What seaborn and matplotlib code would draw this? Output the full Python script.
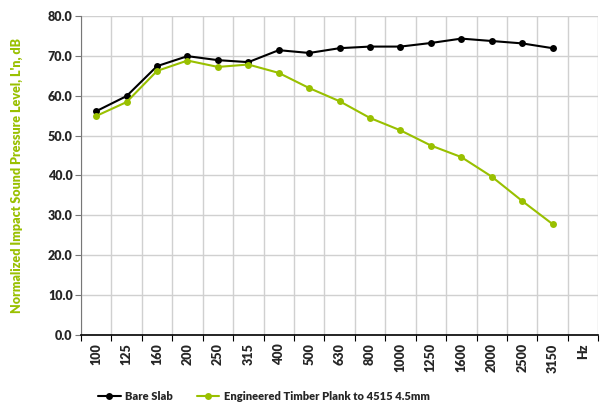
import numpy as np
import pandas as pd
import matplotlib
matplotlib.use("Agg")
import matplotlib.pyplot as plt
import seaborn as sns

freqs = ["100", "125", "160", "200", "250", "315", "400", "500", "630", "800",
         "1000", "1250", "1600", "2000", "2500", "3150"]
bare_slab = [56.1, 59.9, 67.4, 69.9, 68.9, 68.4, 71.4, 70.7, 71.9, 72.3,
             72.3, 73.2, 74.3, 73.7, 73.1, 71.9]
timber = [54.9, 58.4, 66.2, 68.8, 67.2, 67.8, 65.7, 61.9, 58.6, 54.4,
          51.3, 47.5, 44.6, 39.7, 33.6, 27.8]
series_names = ["Bare Slab", "Engineered Timber Plank to 4515 4.5mm"]

GREEN = "#99C000"

sns.set_style("white")
plt.rcParams["font.family"] = ["Lato", "DejaVu Sans"]

df = pd.DataFrame({
    "pos": list(range(len(freqs))) * 2,
    "value": bare_slab + timber,
    "series": [series_names[0]] * len(freqs) + [series_names[1]] * len(freqs),
})

fig = plt.figure(figsize=(6.0, 4.07), dpi=100)
ax = fig.add_axes([0.135, 0.177, 0.862, 0.784])

sns.lineplot(data=df, x="pos", y="value", hue="series",
             palette=["black", GREEN], marker="o", markersize=5,
             markeredgewidth=0, linewidth=1.5, ax=ax)

n = len(freqs) + 1
ax.set_xlim(-0.5, n - 0.5)
ax.set_ylim(0, 80)
ax.set_xticks(range(n))
ax.set_xticklabels(freqs + ["Hz"], rotation=90, fontweight="heavy", fontsize=9)
ax.set_xticks(np.arange(-0.5, n, 1.0), minor=True)
ax.tick_params(axis="x", which="major", length=0, pad=6)
ax.tick_params(axis="x", which="minor", length=4, width=0.8, color="black",
               direction="out", bottom=True)
ax.set_yticks(np.arange(0, 81, 10))
ax.set_yticklabels([f"{v:.1f}" for v in np.arange(0, 81, 10)],
                   fontweight="heavy", fontsize=9)
ax.tick_params(axis="y", length=4, width=0.8, color="#777777",
               direction="out", left=True, pad=2)

ax.grid(True, which="minor", axis="x", color="#d0d0d0", linewidth=1)
ax.grid(True, which="major", axis="y", color="#d0d0d0", linewidth=1)
ax.set_axisbelow(True)

for s in ["top", "right"]:
    ax.spines[s].set_visible(False)
ax.spines["left"].set_color("#777777")
ax.spines["bottom"].set_color("black")
ax.spines["bottom"].set_linewidth(1.2)

ax.set_xlabel("")
ax.set_ylabel("Normalized Impact Sound Pressure Level, L'n, dB",
              color=GREEN, fontweight="heavy", fontsize=9, labelpad=18)

handles, labels = ax.get_legend_handles_labels()
ax.get_legend().remove()
fig.legend(handles, labels, loc="center", bbox_to_anchor=(0.44, 0.025),
           ncol=2, frameon=False, prop={"weight": "heavy", "size": 8},
           handlelength=2.0, handletextpad=0.4, columnspacing=2.2)

fig.savefig("out.png", dpi=100)
